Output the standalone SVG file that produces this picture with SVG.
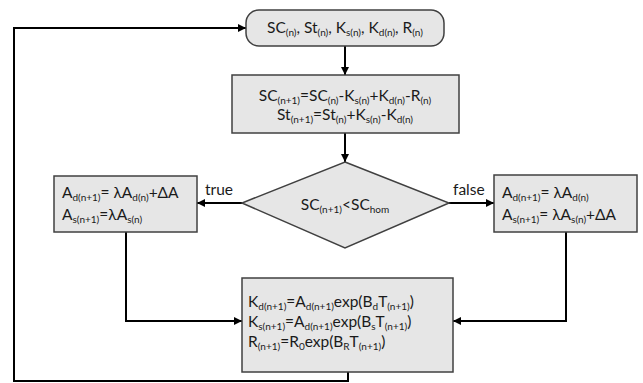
<svg xmlns="http://www.w3.org/2000/svg" width="643" height="383" viewBox="0 0 643 383">
<style>
.box{fill:#e6e6e6;stroke:#404040;stroke-width:1.5}
.t{font-family:Lato,"Liberation Sans",sans-serif;font-size:15.5px;fill:#1a1a1a}
.s{font-size:10px}
.c{fill:none;stroke:#000;stroke-width:2}
</style>
<defs>
<marker id="a" viewBox="0 0 10 10" refX="10" refY="5" markerWidth="4" markerHeight="4" orient="auto" markerUnits="strokeWidth">
<path d="M0,0 L10,5 L0,10 z" fill="#000"/>
</marker>
</defs>
<g id="connectors">
<path class="c" d="M348,372 V381 H14 V28 H246" marker-end="url(#a)"/>
<path class="c" d="M345,46 V75" marker-end="url(#a)"/>
<path class="c" d="M345,133 V162" marker-end="url(#a)"/>
<path class="c" d="M242,203 H197" marker-end="url(#a)"/>
<path class="c" d="M449,203 H494" marker-end="url(#a)"/>
<path class="c" d="M126,232 V321 H242" marker-end="url(#a)"/>
<path class="c" d="M566,232 V321 H453" marker-end="url(#a)"/>
<text class="t" x="205" y="195">true</text>
<text class="t" x="453" y="195">false</text>
</g>
<g id="start">
<rect class="box" x="246" y="10" width="198" height="36" rx="13"/>
<text class="t" x="345" y="33" text-anchor="middle">SC<tspan class="s" dy="3">(n)</tspan><tspan dy="-3">, St</tspan><tspan class="s" dy="3">(n)</tspan><tspan dy="-3">, K</tspan><tspan class="s" dy="3">s(n)</tspan><tspan dy="-3">, K</tspan><tspan class="s" dy="3">d(n)</tspan><tspan dy="-3">, R</tspan><tspan class="s" dy="3">(n)</tspan></text>
</g>
<g id="update">
<rect class="box" x="232" y="75" width="227" height="58"/>
<text class="t" x="345" y="101" text-anchor="middle">SC<tspan class="s" dy="3">(n+1)</tspan><tspan dy="-3">=SC</tspan><tspan class="s" dy="3">(n)</tspan><tspan dy="-3">-K</tspan><tspan class="s" dy="3">s(n)</tspan><tspan dy="-3">+K</tspan><tspan class="s" dy="3">d(n)</tspan><tspan dy="-3">-R</tspan><tspan class="s" dy="3">(n)</tspan></text>
<text class="t" x="345" y="120" text-anchor="middle">St<tspan class="s" dy="3">(n+1)</tspan><tspan dy="-3">=St</tspan><tspan class="s" dy="3">(n)</tspan><tspan dy="-3">+K</tspan><tspan class="s" dy="3">s(n)</tspan><tspan dy="-3">-K</tspan><tspan class="s" dy="3">d(n)</tspan></text>
</g>
<g id="decision">
<polygon class="box" points="345,162 449,203 345,248 242,203"/>
<text class="t" x="345" y="210" text-anchor="middle">SC<tspan class="s" dy="3">(n+1)</tspan><tspan dy="-3">&lt;SC</tspan><tspan class="s" dy="3">hom</tspan></text>
</g>
<g id="true-branch">
<rect class="box" x="54" y="176" width="143" height="56"/>
<text class="t" x="62" y="198">A<tspan class="s" dy="3">d(n+1)</tspan><tspan dy="-3">= λA</tspan><tspan class="s" dy="3">d(n)</tspan><tspan dy="-3">+ΔA</tspan></text>
<text class="t" x="62" y="220">A<tspan class="s" dy="3">s(n+1)</tspan><tspan dy="-3">=λA</tspan><tspan class="s" dy="3">s(n)</tspan></text>
</g>
<g id="false-branch">
<rect class="box" x="494" y="175" width="143" height="57"/>
<text class="t" x="502" y="198">A<tspan class="s" dy="3">d(n+1)</tspan><tspan dy="-3">= λA</tspan><tspan class="s" dy="3">d(n)</tspan></text>
<text class="t" x="502" y="220">A<tspan class="s" dy="3">s(n+1)</tspan><tspan dy="-3">= λA</tspan><tspan class="s" dy="3">s(n)</tspan><tspan dy="-3">+ΔA</tspan></text>
</g>
<g id="rates">
<rect class="box" x="242" y="278" width="211" height="94"/>
<text class="t" x="248" y="307">K<tspan class="s" dy="3">d(n+1)</tspan><tspan dy="-3">=A</tspan><tspan class="s" dy="3">d(n+1)</tspan><tspan dy="-3">exp(B</tspan><tspan class="s" dy="3">d</tspan><tspan dy="-3">T</tspan><tspan class="s" dy="3">(n+1)</tspan><tspan dy="-3">)</tspan></text>
<text class="t" x="248" y="327">K<tspan class="s" dy="3">s(n+1)</tspan><tspan dy="-3">=A</tspan><tspan class="s" dy="3">d(n+1)</tspan><tspan dy="-3">exp(B</tspan><tspan class="s" dy="3">s</tspan><tspan dy="-3">T</tspan><tspan class="s" dy="3">(n+1)</tspan><tspan dy="-3">)</tspan></text>
<text class="t" x="248" y="347">R<tspan class="s" dy="3">(n+1)</tspan><tspan dy="-3">=R</tspan><tspan class="s" dy="3">0</tspan><tspan dy="-3">exp(B</tspan><tspan class="s" dy="3">R</tspan><tspan dy="-3">T</tspan><tspan class="s" dy="3">(n+1)</tspan><tspan dy="-3">)</tspan></text>
</g>
</svg>
